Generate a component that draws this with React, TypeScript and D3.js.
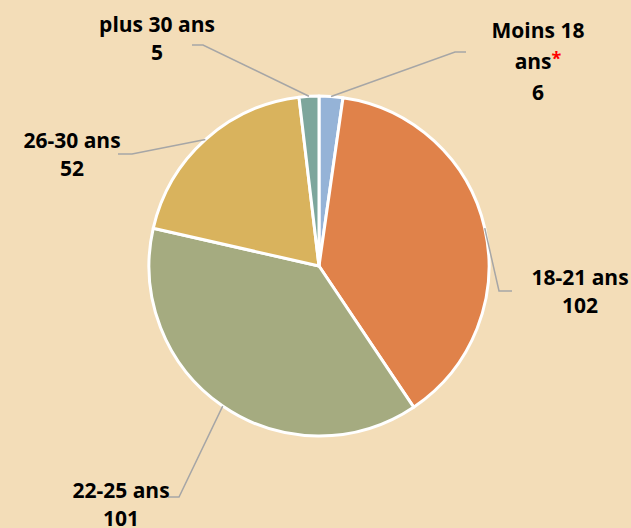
import React from "react";
import * as d3 from "d3";

const categories = ["Moins 18 ans", "18-21 ans", "22-25 ans", "26-30 ans", "plus 30 ans"];
const values = [6, 102, 101, 52, 5];
const colors = ["#95B3D7", "#E0824A", "#A5AB80", "#D9B35D", "#7DA69C"];

// layout of labels (not data)
const labelLayout = [
  { lines: ["Moins 18", "ans", "6"], x: 538, y: 38, gap: 31, star: true, elbow: [455, 52], end: [466, 52] },
  { lines: ["18-21 ans", "102"], x: 580, y: 285, gap: 28, elbow: [499, 291], end: [512, 291] },
  { lines: ["22-25 ans", "101"], x: 121, y: 498, gap: 28, elbow: [179, 497], end: [168, 497] },
  { lines: ["26-30 ans", "52"], x: 72, y: 148, gap: 28, elbow: [132, 154], end: [118, 154] },
  { lines: ["plus 30 ans", "5"], x: 157, y: 32, gap: 28, elbow: [203, 45], end: [192, 45] },
];

const W = 631, H = 528;
const cx = 319, cy = 266, R = 170;

export default function App() {
  const pie = d3.pie<number>().sort(null).value((d) => d)(values);
  const arc = d3.arc<d3.PieArcDatum<number>>().innerRadius(0).outerRadius(R);
  const font = "'Open Sans', sans-serif";
  return (
    <svg width={W} height={H} style={{ position: "absolute", left: 0, top: 0, display: "block" }}>
      <rect width={W} height={H} fill="#F3DDB8" />
      <g transform={`translate(${cx},${cy})`}>
        {pie.map((p, i) => (
          <path key={i} d={arc(p) || ""} fill={colors[i]} stroke="#fff" strokeWidth={3} strokeLinejoin="round" />
        ))}
      </g>
      {pie.map((p, i) => {
        const L = labelLayout[i];
        const mid = (p.startAngle + p.endAngle) / 2;
        const ex = cx + R * Math.sin(mid);
        const ey = cy - R * Math.cos(mid);
        return (
          <polyline
            key={"l" + i}
            points={`${ex},${ey} ${L.elbow[0]},${L.elbow[1]} ${L.end[0]},${L.end[1]}`}
            fill="none"
            stroke="#A6A6A6"
            strokeWidth={1.5}
          />
        );
      })}
      {labelLayout.map((L, i) => (
        <text key={"t" + i} fontFamily={font} fontWeight={700} fontSize={21} fill="#000" textAnchor="middle">
          {L.lines.map((s, j) => (
            <tspan key={j} x={L.x} y={L.y + j * L.gap}>
              {s}
              {L.star && j === 1 ? <tspan fill="#FF0000" fontSize={18} dy={-4}>*</tspan> : null}
            </tspan>
          ))}
        </text>
      ))}
    </svg>
  );
}
